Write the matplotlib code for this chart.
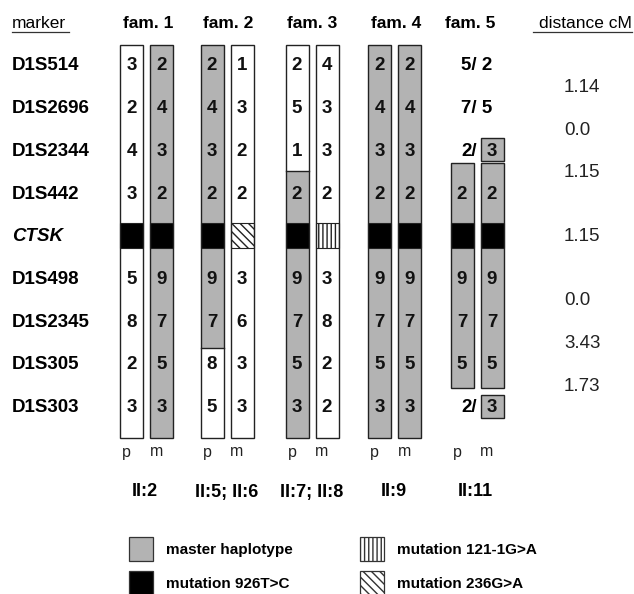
import matplotlib.pyplot as plt
from matplotlib.patches import Rectangle

plt.rcParams['font.family'] = ['Liberation Sans', 'DejaVu Sans']
plt.rcParams['hatch.linewidth'] = 1.0

# data
markers = ["D1S514", "D1S2696", "D1S2344", "D1S442", "CTSK",
           "D1S498", "D1S2345", "D1S305", "D1S303"]
families = ["fam. 1", "fam. 2", "fam. 3", "fam. 4", "fam. 5"]
individuals = ["II:2", "II:5; II:6", "II:7; II:8", "II:9", "II:11"]
# distances between consecutive microsatellite markers (CTSK skipped)
distances = ["1.14", "0.0", "1.15", "1.15", "0.0", "3.43", "1.73"]

fam1_p = ["3", "2", "4", "3", "", "5", "8", "2", "3"]
fam1_m = ["2", "4", "3", "2", "", "9", "7", "5", "3"]
fam2_p = ["2", "4", "3", "2", "", "9", "7", "8", "5"]
fam2_m = ["1", "3", "2", "2", "", "3", "6", "3", "3"]
fam3_p = ["2", "5", "1", "2", "", "9", "7", "5", "3"]
fam3_m = ["4", "3", "3", "2", "", "3", "8", "2", "2"]
fam4_p = ["2", "4", "3", "2", "", "9", "7", "5", "3"]
fam4_m = ["2", "4", "3", "2", "", "9", "7", "5", "3"]
fam5_p = ["5", "7", "2", "2", "", "9", "7", "5", "2"]
fam5_m = ["2", "5", "3", "2", "", "9", "7", "5", "3"]

# master haplotype stretch per chromosome (first row, last row), None = none
master_1 = [None, (0, 8)]
master_2 = [(0, 6), None]
master_3 = [(3, 8), None]
master_4 = [(0, 8), (0, 8)]
master_5 = [(3, 7), (2, 8)]

ctsk_mut = [["926T>C", "926T>C"], ["926T>C", "236G>A"], ["926T>C", "121-1G>A"],
            ["926T>C", "926T>C"], ["926T>C", "926T>C"]]
fam5_phased = (3, 7)   # rows where fam. 5 could be phased

# layout
GREY = '#b3b3b3'
fam_x = [146.5, 227, 312, 394.5, 477]
head_x = [148.5, 228.5, 312, 396, 470]
ind_x = [145, 226.5, 311.5, 394, 475.5]
pair_off = 15
bar_w = 23
y0, dy = 66, 42.7
FS = 13.5


def row_y(r):
    return y0 + dy * r


def mut_style(m):
    if m == "926T>C":
        return dict(facecolor='black', hatch=None)
    if m == "121-1G>A":
        return dict(facecolor='white', hatch='||||')
    return dict(facecolor='white', hatch='\\\\\\\\')


fig = plt.figure(figsize=(6.34, 5.94), dpi=100)
ax = fig.add_axes([0, 0, 1, 1])
ax.set_xlim(0, 634)
ax.set_ylim(594, 0)
ax.axis('off')

# headers
ax.text(12, 23, "marker", fontsize=12.5, va='center', ha='left')
ax.plot([12, 69], [32, 32], color='#333333', lw=0.9)
ax.text(632, 23, "distance cM", fontsize=12.5, va='center', ha='right')
ax.plot([533, 632], [32, 32], color='#333333', lw=0.9)
for hx, name in zip(head_x, families):
    ax.text(hx, 23, name, fontsize=12.5, fontweight='bold', ha='center', va='center')

for i, m in enumerate(markers):
    ax.text(12, row_y(i), m, fontsize=FS, fontweight='bold', va='center',
            ha='left', style='italic' if m == "CTSK" else 'normal')

msat_rows = [i for i, m in enumerate(markers) if m != "CTSK"]
for i, d in enumerate(distances):
    ym = (row_y(msat_rows[i]) + row_y(msat_rows[i + 1])) / 2
    ax.text(564, ym, d, fontsize=13.5, va='center', ha='left', color='#222222')

haplos = [(fam1_p, fam1_m), (fam2_p, fam2_m), (fam3_p, fam3_m),
          (fam4_p, fam4_m), (fam5_p, fam5_m)]
masters = [master_1, master_2, master_3, master_4, master_5]


def draw_bar(cx, r_first, r_last, alleles, master, mut, top_pad, bot_pad):
    left = cx - bar_w / 2
    top = row_y(r_first) - top_pad
    bot = row_y(r_last) + bot_pad
    if master is not None:
        g0 = top if master[0] <= r_first else (row_y(master[0] - 1) + row_y(master[0])) / 2 - 2
        g1 = bot if master[1] >= r_last else (row_y(master[1]) + row_y(master[1] + 1)) / 2 + 4
        ax.add_patch(Rectangle((left, g0), bar_w, g1 - g0, facecolor=GREY, edgecolor='none'))
        if g0 > top:
            ax.plot([left, left + bar_w], [g0, g0], color='#222222', lw=1.0)
        if g1 < bot:
            ax.plot([left, left + bar_w], [g1, g1], color='#222222', lw=1.0)
    st = mut_style(mut)
    ax.add_patch(Rectangle((left, row_y(4) - 14), bar_w, 25, edgecolor='#222222',
                           lw=0.8, **st))
    ax.add_patch(Rectangle((left, top), bar_w, bot - top, facecolor='none',
                           edgecolor='#222222', lw=1.0))
    for r in range(r_first, r_last + 1):
        if alleles[r]:
            ax.text(cx, row_y(r), alleles[r], fontsize=FS, fontweight='bold',
                    ha='center', va='center', color='#111111')


for k, (fx, hp, ms) in enumerate(zip(fam_x, haplos, masters)):
    for j in range(2):
        cx = fx - pair_off if j == 0 else fx + pair_off
        if k < 4:
            draw_bar(cx, 0, 8, hp[j], ms[j], ctsk_mut[k][j], 21, 30)
        else:
            draw_bar(cx, fam5_phased[0], fam5_phased[1], hp[j], ms[j], ctsk_mut[k][j], 31, 23)
        ax.text(cx - 5, 452, "p" if j == 0 else "m", fontsize=11.5, ha='center', va='center',
                color='#222222')
    ax.text(ind_x[k], 492, individuals[k], fontsize=13, fontweight='bold',
            ha='center', va='center')

# fam. 5 unphased markers
fx = fam_x[4]
for r in range(9):
    if fam5_phased[0] <= r <= fam5_phased[1] or not fam5_p[r]:
        continue
    ms = master_5[1]
    if ms[0] <= r <= ms[1]:
        cx = fx + pair_off
        ax.add_patch(Rectangle((cx - bar_w / 2, row_y(r) - 13), bar_w, 23,
                               facecolor=GREY, edgecolor='#222222', lw=1.0))
        ax.text(cx, row_y(r), fam5_m[r], fontsize=FS, fontweight='bold',
                ha='center', va='center', color='#111111')
        ax.text(cx - bar_w / 2 - 3, row_y(r), fam5_p[r] + "/", fontsize=FS,
                fontweight='bold', ha='right', va='center')
    else:
        ax.text(fx, row_y(r), fam5_p[r] + "/ " + fam5_m[r], fontsize=FS,
                fontweight='bold', ha='center', va='center')

# legend
legend_items = [("master haplotype", 129, 537, dict(facecolor=GREY, hatch=None)),
                ("mutation 926T>C", 129, 571, mut_style("926T>C")),
                ("mutation 121-1G>A", 360, 537, mut_style("121-1G>A")),
                ("mutation 236G>A", 360, 571, mut_style("236G>A"))]
for label, lx, ly, st in legend_items:
    ax.add_patch(Rectangle((lx, ly), 24, 24, edgecolor='#333333', lw=0.9, **st))
    ax.text(lx + 37, ly + 13, label, fontsize=11, fontweight='bold', ha='left', va='center')

fig.savefig("out.png", dpi=100)
